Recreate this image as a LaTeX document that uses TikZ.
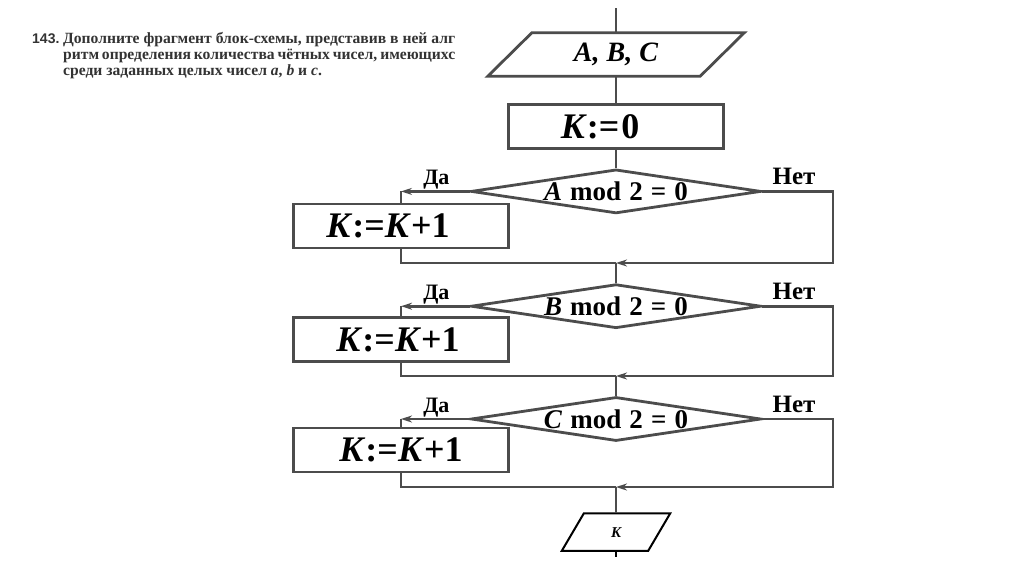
\documentclass[tikz,border=0pt]{standalone}
\usepackage{fontspec}
\setmainfont{Liberation Serif}
\newfontfamily\numfont{Liberation Sans}
\usetikzlibrary{positioning, arrows.meta, shapes.geometric}
\newcommand{\fitline}[1]{\hbox to 392pt{#1}}

\begin{document}
\begin{tikzpicture}[
    x=1pt, y=-1pt,
    >={Stealth[length=11pt, width=7pt]},
    node distance=20pt
]

\tikzstyle{flow}=[
    draw=black!70,
    line width=2.8pt
]
\tikzstyle{block}=[
    rectangle, flow,
    minimum width=215pt, minimum height=44pt,
    font=\fontsize{36}{40}\selectfont\bfseries
]
\tikzstyle{cond}=[
    diamond, flow, inner sep=0pt, shape aspect=6.6,
    minimum width=290pt, minimum height=44pt,
    font=\fontsize{27}{30}\selectfont\bfseries,
    execute at begin node={\spaceskip=.3em\relax}
]
\tikzstyle{io}=[
    rectangle, inner sep=0pt,
    minimum width=212pt, minimum height=43pt,
    font=\fontsize{28}{32}\selectfont\bfseries\itshape
]
\tikzstyle{outbox}=[
    rectangle, inner sep=0pt,
    minimum width=86pt, minimum height=37pt,
    font=\fontsize{15}{17}\selectfont\bfseries\itshape
]
\tikzstyle{yes}=[inner sep=0pt, font=\fontsize{22}{24}\selectfont\bfseries]
\tikzstyle{no}=[inner sep=0pt, font=\fontsize{25}{28}\selectfont\bfseries]
\tikzstyle{txt}=[inner sep=0pt, text=black!80, font=\fontsize{15.6}{17}\selectfont\bfseries]

\useasboundingbox[fill=white] (0,0) rectangle (1024,574);

% task text
\node[txt, font=\fontsize{14}{17}\selectfont\numfont\bfseries, anchor=base west] (num) at (32,43) {143.};
\node[txt, anchor=base west] (t1) at (63,43) {\fitline{Дополните фрагмент блок-схемы, представив в ней алг}};
\node[txt, anchor=base west] (t2) at (63,59) {\fitline{ритм определения количества чётных чисел, имеющихс}};
\node[txt, anchor=base west] (t3) at (63,75) {среди заданных целых чисел \textit{a}, \textit{b} и \textit{c}.};

% main column
\coordinate (top) at (616,8);
\node[io] (in) at (616,54.5) {A, B, C};
\node[block, below=27pt of in] (r0) {\textit{K}:=\kern2pt0\kern32pt};
\node[cond, below=18pt of r0] (d1) {\textit{A} mod 2 = 0};
\node[cond, below=68pt of d1] (d2) {\textit{B} mod 2 = 0};
\node[cond, below=66pt of d2] (d3) {\textit{C} mod 2 = 0};
\node[outbox, below=71pt of d3] (out) {K};
\coordinate (bot) at (616,557);

% yes branches
\node[block] (r1) at (401,226) {\textit{K}:=\textit{K}+1\kern26pt};
\node[block] (r2) at (401,339.5) {\textit{K}:=\textit{K}+1\kern6pt};
\node[block] (r3) at (401,450) {\textit{K}:=\textit{K}+1};

\node[yes, above left=2pt and 20pt of d1.west] (y1) {Да};
\node[yes, above left=2pt and 20pt of d2.west] (y2) {Да};
\node[yes, above left=2pt and 20pt of d3.west] (y3) {Да};
\node[no, above right=6pt and 10pt of d1.east] (n1) {Нет};
\node[no, above right=6pt and 10pt of d2.east] (n2) {Нет};
\node[no, above right=6pt and 10pt of d3.east] (n3) {Нет};

% merge points
\coordinate (m1) at (616,263);
\coordinate (m2) at (616,376);
\coordinate (m3) at (616,487);
\coordinate (e1) at (833,263);
\coordinate (e2) at (833,376);
\coordinate (e3) at (833,487);

% input / output shapes
\draw[flow] ([xshift=22pt]in.north west) -- ([xshift=22pt]in.north east)
    -- ([xshift=-22pt]in.south east) -- ([xshift=-22pt]in.south west) -- cycle;
\draw[line width=2pt] ([xshift=11pt]out.north west) -- ([xshift=11pt]out.north east)
    -- ([xshift=-11pt]out.south east) -- ([xshift=-11pt]out.south west) -- cycle;

\draw[flow] (top) -- (in.north);
\draw[flow] (in) -- (r0);
\draw[flow] (r0) -- (d1);

\draw[flow, ->] (d1.west) -- (r1.north |- d1.west);
\draw[flow] (r1.north |- d1.west) -- (r1.north);
\draw[flow] (r1.south) |- (m1);
\draw[flow, ->] (d1.east) -| (e1) -- (m1);
\draw[flow] (m1) -- (d2);

\draw[flow, ->] (d2.west) -- (r2.north |- d2.west);
\draw[flow] (r2.north |- d2.west) -- (r2.north);
\draw[flow] (r2.south) |- (m2);
\draw[flow, ->] (d2.east) -| (e2) -- (m2);
\draw[flow] (m2) -- (d3);

\draw[flow, ->] (d3.west) -- (r3.north |- d3.west);
\draw[flow] (r3.north |- d3.west) -- (r3.north);
\draw[flow] (r3.south) |- (m3);
\draw[flow, ->] (d3.east) -| (e3) -- (m3);
\draw[flow] (m3) -- (out);
\draw[line width=1.4pt] (out) -- (bot);

\end{tikzpicture}
\end{document}
